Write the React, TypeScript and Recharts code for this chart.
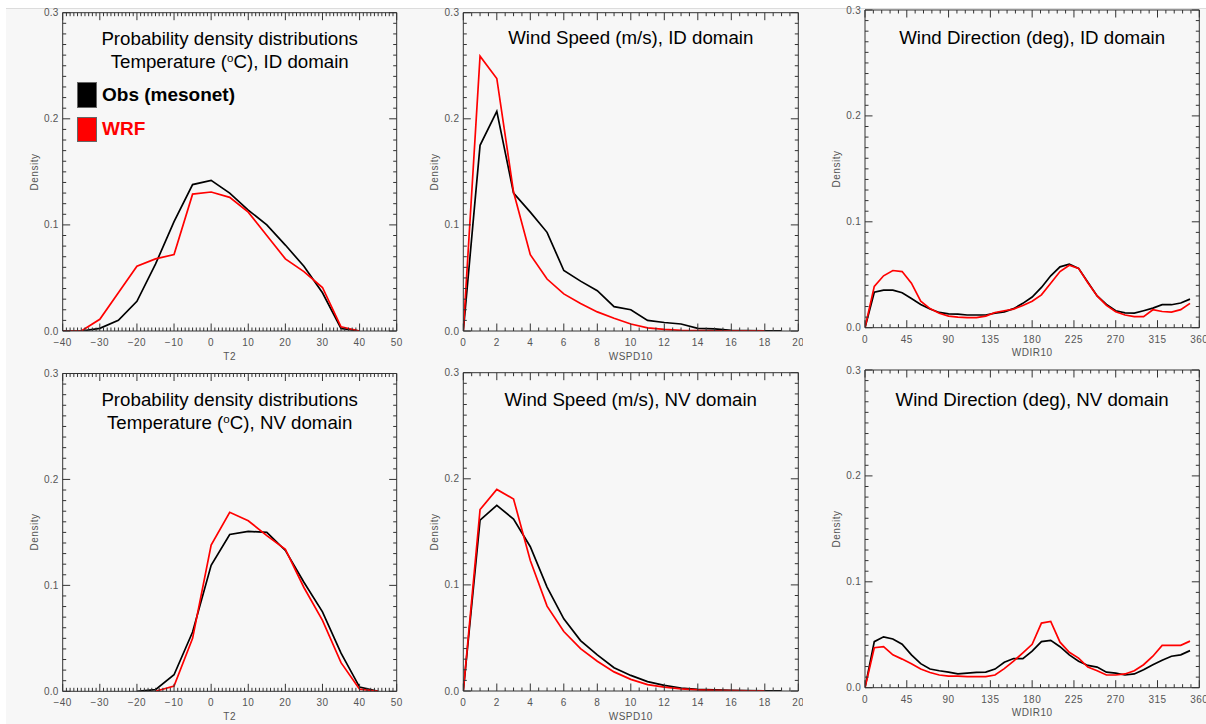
import React from "react";
import { LineChart, Line, XAxis, YAxis, Legend } from "recharts";

// bin centres
const tempBins = [-40, -35, -30, -25, -20, -15, -10, -5, 0, 5, 10, 15, 20, 25, 30, 35, 40, 45];
const wspdBins = [0, 1, 2, 3, 4, 5, 6, 7, 8, 9, 10, 11, 12, 13, 14, 15, 16, 17, 18, 19];
const wdirBins = [
  0, 10, 20, 30, 40, 50, 60, 70, 80, 90, 100, 110, 120, 130, 140, 150, 160, 170,
  180, 190, 200, 210, 220, 230, 240, 250, 260, 270, 280, 290, 300, 310, 320, 330, 340, 350,
];

// T2, ID domain
const tempIdObs = [0, 0, 0.0025, 0.01, 0.028, 0.063, 0.103, 0.138, 0.142, 0.13, 0.114, 0.1, 0.081, 0.061, 0.036, 0.0025, 0, null];
const tempIdWrf = [0, 0, 0.011, 0.036, 0.061, 0.068, 0.072, 0.129, 0.131, 0.126, 0.112, 0.09, 0.068, 0.056, 0.041, 0.004, 0, null];
// T2, NV domain
const tempNvObs = [null, null, null, null, 0, 0.0015, 0.0156, 0.056, 0.119, 0.148, 0.151, 0.15, 0.133, 0.103, 0.075, 0.036, 0.004, 0];
const tempNvWrf = [null, null, null, null, null, 0, 0.005, 0.05, 0.138, 0.169, 0.161, 0.147, 0.134, 0.098, 0.067, 0.027, 0.002, 0];

// WSPD10
const wspdIdObs = [0, 0.175, 0.207, 0.13, 0.112, 0.093, 0.057, 0.047, 0.038, 0.023, 0.02, 0.01, 0.008, 0.0066, 0.0025, 0.002, 0.0006, 0.0003, 0.0002, 0.0001];
const wspdIdWrf = [0, 0.259, 0.238, 0.131, 0.072, 0.049, 0.035, 0.026, 0.018, 0.012, 0.0066, 0.003, 0.0015, 0.0006, 0.0003, 0.0002, 0.0001, 0.0001, 0.0001, null];
const wspdNvObs = [0, 0.161, 0.175, 0.162, 0.136, 0.098, 0.068, 0.0475, 0.034, 0.022, 0.0147, 0.0088, 0.0053, 0.0028, 0.0016, 0.001, 0.0005, 0.0003, 0.0002, 0.0001];
const wspdNvWrf = [0, 0.171, 0.19, 0.181, 0.123, 0.08, 0.056, 0.04, 0.028, 0.018, 0.011, 0.006, 0.0037, 0.002, 0.001, 0.0005, 0.0003, 0.0002, 0.0001, null];

// WDIR10
const wdirIdObs = [
  0, 0.0335, 0.0355, 0.0355, 0.033, 0.0275, 0.022, 0.0176, 0.0144, 0.013,
  0.0128, 0.012, 0.012, 0.012, 0.0137, 0.015, 0.018, 0.023, 0.029, 0.038,
  0.049, 0.0575, 0.06, 0.056, 0.043, 0.03, 0.022, 0.016, 0.014, 0.0137,
  0.016, 0.0185, 0.0217, 0.0217, 0.0233, 0.027,
];
const wdirIdWrf = [
  0, 0.039, 0.049, 0.054, 0.053, 0.042, 0.025, 0.018, 0.0137, 0.011,
  0.0099, 0.0096, 0.0096, 0.011, 0.0144, 0.016, 0.0176, 0.021, 0.025, 0.031,
  0.042, 0.053, 0.059, 0.056, 0.0425, 0.03, 0.021, 0.015, 0.012, 0.0105,
  0.0105, 0.017, 0.0153, 0.0147, 0.017, 0.023,
];
const wdirNvObs = [
  0, 0.0435, 0.048, 0.046, 0.041, 0.031, 0.0227, 0.0176, 0.016, 0.0147,
  0.013, 0.0137, 0.0144, 0.0147, 0.0176, 0.024, 0.0275, 0.0275, 0.0345, 0.0435,
  0.0447, 0.0387, 0.031, 0.025, 0.021, 0.0195, 0.0147, 0.0137, 0.012, 0.013,
  0.017, 0.0217, 0.026, 0.0297, 0.031, 0.035,
];
const wdirNvWrf = [
  0, 0.0377, 0.0387, 0.031, 0.027, 0.0227, 0.0176, 0.0144, 0.012, 0.011,
  0.011, 0.0105, 0.0105, 0.0105, 0.012, 0.018, 0.025, 0.033, 0.041, 0.061,
  0.0626, 0.043, 0.0335, 0.028, 0.0195, 0.016, 0.012, 0.012, 0.013, 0.016,
  0.0217, 0.0297, 0.04, 0.04, 0.04, 0.044,
];

// axis ticks (minor + major)
const densityTicks = Array.from({ length: 31 }, (_, i) => i / 100);
const tempTicks = Array.from({ length: 91 }, (_, i) => i - 40);
const wspdTicks = Array.from({ length: 41 }, (_, i) => i / 2);
const wdirTicks = Array.from({ length: 41 }, (_, i) => i * 9);

const AXIS = "#333";
const LABEL = "#555";
const FONT = "'Liberation Sans', Arial, sans-serif";

const rows = (bins: number[], obs: (number | null)[], wrf: (number | null)[]) =>
  bins.map((x, i) => ({ x, obs: obs[i], wrf: wrf[i] }));

const fmtX = (v: number) => (v < 0 ? "\u2212" + Math.abs(v) : String(v));
const fmtY = (v: number) => v.toFixed(1);

function makeTick(side: string, isMajor: (v: number) => boolean, fmt?: (v: number) => string) {
  return (p: any) => {
    const { x, y, payload } = p;
    const v = payload.value;
    const big = isMajor(v);
    const len = big ? 7.5 : 3.5;
    let x2 = x;
    let y2 = y;
    if (side === "bottom") y2 = y - len;
    if (side === "top") y2 = y + len;
    if (side === "left") x2 = x + len;
    if (side === "right") x2 = x - len;
    let label = null;
    if (fmt && big) {
      label =
        side === "bottom" ? (
          <text x={x} y={y + 15} textAnchor="middle" fill={LABEL} fontSize={10} fontFamily={FONT} letterSpacing={0.5}>
            {fmt(v)}
          </text>
        ) : (
          <text x={x - 4} y={y + 3.5} textAnchor="end" fill={LABEL} fontSize={10} fontFamily={FONT} letterSpacing={0.3}>
            {fmt(v)}
          </text>
        );
    }
    return (
      <g>
        <line x1={x} y1={y} x2={x2} y2={y2} stroke={AXIS} strokeWidth={1} />
        {label}
      </g>
    );
  };
}

const yMajor = (v: number) => Math.round(v * 100) % 10 === 0;

function LegendBox({ payload }: any) {
  return (
    <div style={{ fontFamily: FONT }}>
      {(payload || []).map((e: any) => (
        <div key={e.value} style={{ display: "flex", alignItems: "center", height: 34.3 }}>
          <div
            style={{
              width: 20,
              height: 25.5,
              boxSizing: "border-box",
              background: e.color,
              border: "1.5px solid #666",
              marginRight: 5,
            }}
          />
          <span style={{ fontWeight: "bold", fontSize: 19, color: e.color }}>{e.value}</span>
        </div>
      ))}
    </div>
  );
}

type Spec = {
  x0: number;
  y0: number;
  w: number;
  h: number;
  l: number;
  t: number;
  r: number;
  b: number;
  domain: [number, number];
  ticks: number[];
  major: (v: number) => boolean;
  xName: string;
  data: any[];
  title: React.ReactNode[];
  titleTop: number;
  legend?: boolean;
};

function Panel({ s }: { s: Spec }) {
  // every axis is 1px thick, so take it off the margin
  const margin = {
    left: s.l - s.x0 - 1,
    top: s.t - s.y0 - 1,
    right: s.x0 + s.w - s.r - 1,
    bottom: s.y0 + s.h - s.b - 1,
  };
  const cx = (s.l + s.r) / 2 - s.x0;
  const cy = (s.t + s.b) / 2 - s.y0;
  return (
    <div style={{ position: "absolute", left: s.x0, top: s.y0, width: s.w, height: s.h }}>
      <LineChart width={s.w} height={s.h} data={s.data} margin={margin}>
        <XAxis
          xAxisId="b"
          dataKey="x"
          type="number"
          domain={s.domain}
          ticks={s.ticks}
          interval={0}
          height={1}
          tickSize={0}
          tickMargin={0}
          tickLine={false}
          axisLine={{ stroke: AXIS }}
          tick={makeTick("bottom", s.major, fmtX)}
          allowDataOverflow
        />
        <XAxis
          xAxisId="t"
          dataKey="x"
          orientation="top"
          type="number"
          domain={s.domain}
          ticks={s.ticks}
          interval={0}
          height={1}
          tickSize={0}
          tickMargin={0}
          tickLine={false}
          axisLine={{ stroke: AXIS }}
          tick={makeTick("top", s.major)}
          allowDataOverflow
        />
        <YAxis
          yAxisId="l"
          type="number"
          domain={[0, 0.3]}
          ticks={densityTicks}
          interval={0}
          width={1}
          tickSize={0}
          tickMargin={0}
          tickLine={false}
          axisLine={{ stroke: AXIS }}
          tick={makeTick("left", yMajor, fmtY)}
          allowDataOverflow
        />
        <YAxis
          yAxisId="r"
          orientation="right"
          type="number"
          domain={[0, 0.3]}
          ticks={densityTicks}
          interval={0}
          width={1}
          tickSize={0}
          tickMargin={0}
          tickLine={false}
          axisLine={{ stroke: AXIS }}
          tick={makeTick("right", yMajor)}
          allowDataOverflow
        />
        <Line
          xAxisId="b"
          yAxisId="l"
          type="linear"
          dataKey="obs"
          name="Obs (mesonet)"
          stroke="#000000"
          strokeWidth={1.7}
          dot={false}
          activeDot={false}
          isAnimationActive={false}
        />
        <Line
          xAxisId="b"
          yAxisId="l"
          type="linear"
          dataKey="wrf"
          name="WRF"
          stroke="#ff0000"
          strokeWidth={1.7}
          dot={false}
          activeDot={false}
          isAnimationActive={false}
        />
        {s.legend && (
          <Legend
            layout="vertical"
            align="center"
            verticalAlign="middle"
            wrapperStyle={{ left: 77, top: 78, width: 200, height: 70 }}
            content={(p: any) => <LegendBox payload={p.payload} />}
          />
        )}
      </LineChart>
      <div
        style={{
          position: "absolute",
          left: cx - 200,
          width: 400,
          top: s.titleTop - s.y0,
          textAlign: "center",
          fontFamily: FONT,
          fontSize: 18.7,
          lineHeight: "23px",
          color: "#000",
        }}
      >
        {s.title.map((line, i) => (
          <div key={i}>{line}</div>
        ))}
      </div>
      <div
        style={{
          position: "absolute",
          left: s.l - s.x0 - 29,
          top: cy,
          transform: "translate(-50%, -50%) rotate(-90deg)",
          fontFamily: FONT,
          fontSize: 10,
          letterSpacing: 0.5,
          color: LABEL,
          whiteSpace: "nowrap",
        }}
      >
        Density
      </div>
      <div
        style={{
          position: "absolute",
          left: cx,
          top: s.b - s.y0 + 24.5,
          transform: "translate(-50%, -50%)",
          fontFamily: FONT,
          fontSize: 10,
          letterSpacing: 0.5,
          color: LABEL,
          whiteSpace: "nowrap",
        }}
      >
        {s.xName}
      </div>
    </div>
  );
}

const sup = (
  <sup style={{ fontSize: "0.62em", lineHeight: 0, verticalAlign: "0.55em" }}>o</sup>
);

const tempMajor = (v: number) => v % 10 === 0;
const wspdMajor = (v: number) => v % 2 === 0;
const wdirMajor = (v: number) => v % 45 === 0;

const specs: Spec[] = [
  {
    x0: 0, y0: 0, w: 403, h: 362, l: 62.7, t: 12.7, r: 396.7, b: 331,
    domain: [-40, 50], ticks: tempTicks, major: tempMajor, xName: "T2",
    data: rows(tempBins, tempIdObs, tempIdWrf),
    title: ["Probability density distributions", <>Temperature ({sup}C), ID domain</>],
    titleTop: 27, legend: true,
  },
  {
    x0: 403, y0: 0, w: 400, h: 362, l: 463.3, t: 12.7, r: 798.3, b: 331,
    domain: [0, 20], ticks: wspdTicks, major: wspdMajor, xName: "WSPD10",
    data: rows(wspdBins, wspdIdObs, wspdIdWrf),
    title: ["Wind Speed (m/s), ID domain"], titleTop: 26.2,
  },
  {
    x0: 803, y0: 0, w: 403, h: 362, l: 865, t: 10, r: 1199.3, b: 327.7,
    domain: [0, 360], ticks: wdirTicks, major: wdirMajor, xName: "WDIR10",
    data: rows(wdirBins, wdirIdObs, wdirIdWrf),
    title: ["Wind Direction (deg), ID domain"], titleTop: 26.2,
  },
  {
    x0: 0, y0: 362, w: 403, h: 362, l: 62.7, t: 373.5, r: 396.7, b: 691.3,
    domain: [-40, 50], ticks: tempTicks, major: tempMajor, xName: "T2",
    data: rows(tempBins, tempNvObs, tempNvWrf),
    title: ["Probability density distributions", <>Temperature ({sup}C), NV domain</>],
    titleTop: 388,
  },
  {
    x0: 403, y0: 362, w: 400, h: 362, l: 463.3, t: 372.7, r: 798.3, b: 691,
    domain: [0, 20], ticks: wspdTicks, major: wspdMajor, xName: "WSPD10",
    data: rows(wspdBins, wspdNvObs, wspdNvWrf),
    title: ["Wind Speed (m/s), NV domain"], titleTop: 387.8,
  },
  {
    x0: 803, y0: 362, w: 403, h: 362, l: 865, t: 370, r: 1199.3, b: 687.7,
    domain: [0, 360], ticks: wdirTicks, major: wdirMajor, xName: "WDIR10",
    data: rows(wdirBins, wdirNvObs, wdirNvWrf),
    title: ["Wind Direction (deg), NV domain"], titleTop: 387.8,
  },
];

export default function App() {
  return (
    <div style={{ position: "absolute", left: 0, top: 0, width: 1206, height: 724, background: "#fff", overflow: "hidden" }}>
      <div
        style={{
          position: "absolute",
          left: 6,
          top: 8,
          right: 0,
          bottom: 0,
          background: "#f7f7f7",
          borderTop: "1px solid #dcdcdc",
        }}
      />
      {specs.map((s, i) => (
        <Panel key={i} s={s} />
      ))}
    </div>
  );
}
